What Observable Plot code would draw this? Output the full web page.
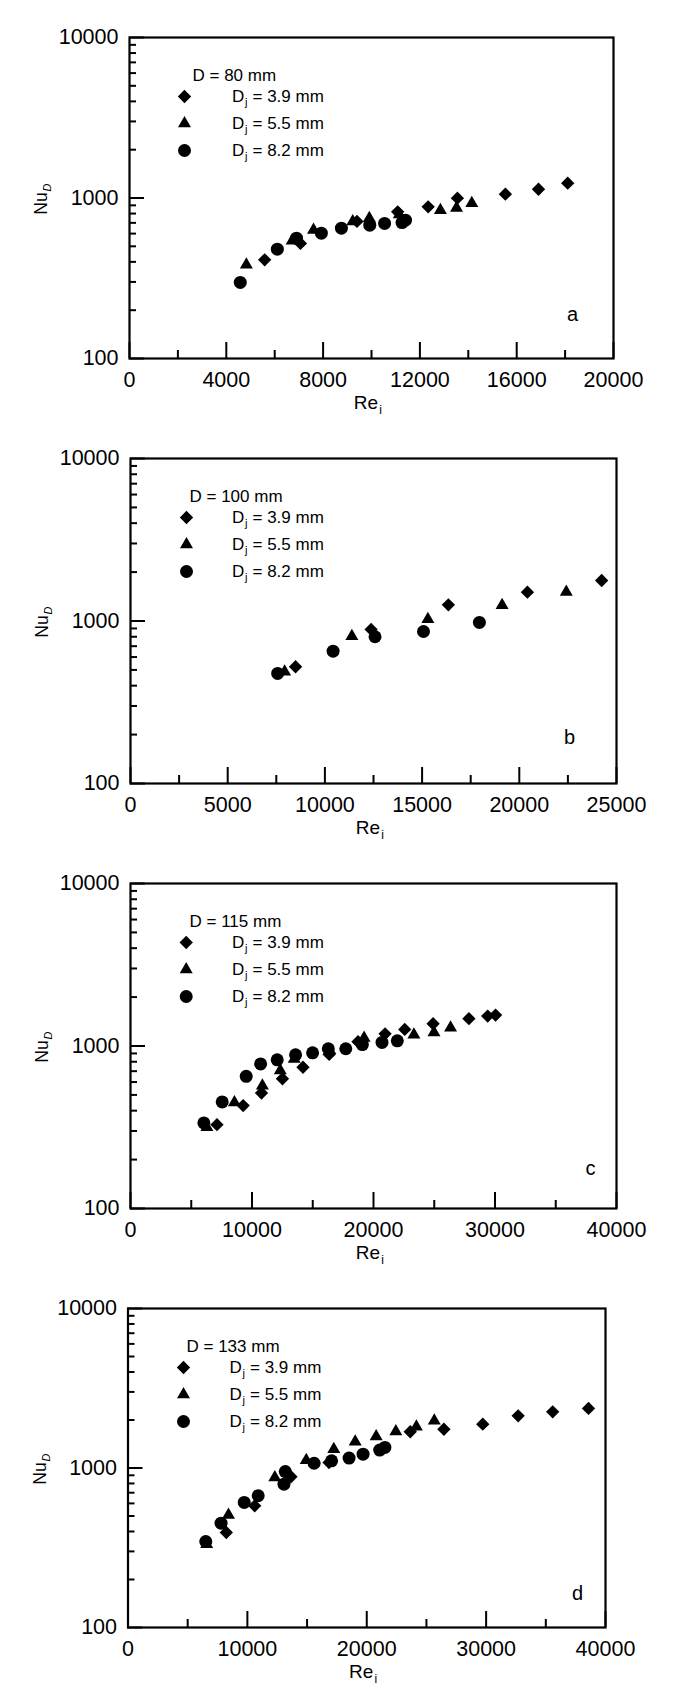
<!DOCTYPE html>
<html><head><meta charset="utf-8">
<script src="https://cdn.jsdelivr.net/npm/d3@7"></script>
<script src="https://cdn.jsdelivr.net/npm/@observablehq/plot@0.6"></script>
<style>
html,body{margin:0;padding:0;background:#fff;overflow:hidden;}
#root{position:relative;width:685px;height:1689px;}
.panel{position:absolute;left:0;}
.panel svg{max-width:none;display:block;}
</style></head><body><div id="root"></div>
<script>
// ---- Data ----
// Panel a: D = 80 mm
const reA39 = [5586, 7063, 9400, 11081, 12342, 13550, 15532, 16901, 18108];
const nuA39 = [412, 521, 715, 820, 881, 998, 1057, 1134, 1237];
const reA55 = [4829, 6721, 7604, 9225, 9910, 11150, 12847, 13514, 14144];
const nuA55 = [384, 541, 631, 715, 748, 790, 840, 865, 929];
const reA82 = [4577, 6108, 6901, 7928, 8757, 9928, 10541, 11261, 11405];
const nuA82 = [298, 480, 562, 604, 649, 677, 694, 703, 728];
// Panel b: D = 100 mm
const reB39 = [8491, 12377, 16352, 20418, 24236];
const nuB39 = [523, 887, 1257, 1505, 1775];
const reB55 = [7929, 11388, 15297, 19115, 22417];
const nuB55 = [487, 807, 1026, 1250, 1510];
const reB82 = [7570, 10422, 12579, 15072, 17947];
const nuB82 = [476, 652, 800, 862, 980];
// Panel c: D = 115 mm
const reC39 = [7116, 9273, 10782, 12507, 14196, 16353, 18725, 20953, 22570, 24906, 27854, 29399, 30046];
const nuC39 = [328, 430, 514, 629, 740, 887, 1062, 1188, 1265, 1370, 1473, 1528, 1549];
const reC55 = [6290, 8554, 10854, 12327, 13477, 16400, 19228, 23325, 24978, 26344];
const nuC55 = [316, 449, 570, 706, 833, 940, 1122, 1172, 1211, 1294];
const reC82 = [6038, 7547, 9524, 10710, 12076, 13585, 14987, 16281, 17718, 19084, 20701, 21959];
const nuC82 = [336, 453, 651, 776, 822, 883, 908, 962, 962, 1020, 1052, 1076];
// Panel d: D = 133 mm
const reD39 = [8235, 10614, 13652, 16836, 23644, 26462, 29719, 32684, 35575, 38576];
const nuD39 = [394, 579, 881, 1082, 1687, 1749, 1883, 2125, 2249, 2362];
const reD55 = [6588, 8418, 12298, 14933, 17239, 19032, 20789, 22436, 24156, 25657];
const nuD55 = [333, 508, 871, 1119, 1313, 1459, 1574, 1694, 1812, 1976];
const reD82 = [6515, 7796, 9736, 10907, 13066, 13176, 15592, 17056, 18520, 19691, 21082, 21521];
const nuD82 = [346, 451, 608, 670, 792, 950, 1071, 1109, 1154, 1221, 1295, 1346];

// Tick values
const yMajor = [100, 1000, 10000];
const yMinor = [200, 300, 400, 500, 600, 700, 800, 900, 2000, 3000, 4000, 5000, 6000, 7000, 8000, 9000];
const xMajorA = [0, 4000, 8000, 12000, 16000, 20000];
const xMinorA = [2000, 6000, 10000, 14000, 18000];
const xMajorB = [0, 5000, 10000, 15000, 20000, 25000];
const xMinorB = [2500, 7500, 12500, 17500, 22500];
const xMajorCD = [0, 10000, 20000, 30000, 40000];
const xMinorCD = [5000, 15000, 25000, 35000];

// Labels
const seriesLabels = ["= 3.9 mm", "= 5.5 mm", "= 8.2 mm"];
const panelTitles = ["D = 80 mm", "D = 100 mm", "D = 115 mm", "D = 133 mm"];
const panelLetters = ["a", "b", "c", "d"];

const FONT = "'Liberation Sans', Arial, Helvetica, sans-serif";

const panels = [
  {offset: 0, left: 129, right: 613, top: 37, bottom: 358, xmax: 20000, xMajor: xMajorA, xMinor: xMinorA,
   s: [[reA39, nuA39], [reA55, nuA55], [reA82, nuA82]], title: panelTitles[0], letter: panelLetters[0],
   hx: 63, mx: 55, lx: 102.5, letDx: -41, letDy: -44},
  {offset: 421, left: 130, right: 616, top: 458, bottom: 783, xmax: 25000, xMajor: xMajorB, xMinor: xMinorB,
   s: [[reB39, nuB39], [reB55, nuB55], [reB82, nuB82]], title: panelTitles[1], letter: panelLetters[1],
   hx: 59, mx: 56, lx: 101.5, letDx: -47, letDy: -46},
  {offset: 846, left: 130, right: 616, top: 883, bottom: 1208, xmax: 40000, xMajor: xMajorCD, xMinor: xMinorCD,
   s: [[reC39, nuC39], [reC55, nuC55], [reC82, nuC82]], title: panelTitles[2], letter: panelLetters[2],
   hx: 59, mx: 55.7, lx: 101.5, letDx: -26, letDy: -40},
  {offset: 1271, left: 127.5, right: 605, top: 1308, bottom: 1627, xmax: 40000, xMajor: xMajorCD, xMinor: xMinorCD,
   s: [[reD39, nuD39], [reD55, nuD55], [reD82, nuD82]], title: panelTitles[3], letter: panelLetters[3],
   hx: 58.5, mx: 55.5, lx: 101.5, letDx: -28, letDy: -34}
];

const symbols = ["diamond2", "triangle2", "circle"];
const radii = [6, 6.2, 6.5];
const rowDy = [59, 86, 113];

function txt(label, opts) {
  return Plot.text([label], {text: d => d, lineAnchor: "middle", fill: "#000", ...opts});
}

function makePanel(p) {
  const fw = p.right - p.left, fh = p.bottom - p.top;
  const mt = p.top - p.offset, mb = 62;
  const H = mt + fh + mb;
  const series = p.s.map(([re, nu]) => re.map((r, i) => ({re: r, nu: nu[i]})));
  const marks = [
    Plot.tickX(p.xMinor, {x: d => d, insetTop: fh - 8, stroke: "#000", strokeWidth: 2}),
    Plot.tickX(p.xMajor, {x: d => d, insetTop: fh - 16, stroke: "#000", strokeWidth: 2}),
    Plot.tickY(yMinor, {y: d => d, insetRight: fw - 7, stroke: "#000", strokeWidth: 2}),
    Plot.tickY(yMajor, {y: d => d, insetRight: fw - 15, stroke: "#000", strokeWidth: 2}),
    Plot.text(p.xMajor, {x: d => d, frameAnchor: "bottom", lineAnchor: "middle", textAnchor: "middle", dy: 22, text: d => String(d), fontSize: 21.5, fill: "#000"}),
    Plot.text(yMajor, {y: d => d, frameAnchor: "left", lineAnchor: "middle", dx: -11, textAnchor: "end", text: d => String(d), fontSize: 21.5, fill: "#000"}),
    Plot.frame({stroke: "#000", strokeWidth: 2.2}),
    // axis titles
    txt("Re", {frameAnchor: "bottom", textAnchor: "middle", dx: -5.5, dy: 44, fontSize: 19}),
    txt("i", {frameAnchor: "bottom", textAnchor: "middle", dx: 9, dy: 51.5, fontSize: 12}),
    txt("Nu", {frameAnchor: "left", textAnchor: "middle", rotate: -90, dx: -88, dy: 5.5, fontSize: 17.5}),
    txt("D", {frameAnchor: "left", textAnchor: "middle", rotate: -90, dx: -82, dy: -10.5, fontSize: 11, fontStyle: "italic"}),
    // panel letter
    txt(p.letter, {frameAnchor: "bottom-right", textAnchor: "middle", dx: p.letDx, dy: p.letDy, fontSize: 20}),
    // legend header
    txt(p.title, {frameAnchor: "top-left", textAnchor: "start", dx: p.hx, dy: 38, fontSize: 17})
  ];
  symbols.forEach((sym, k) => {
    marks.push(Plot.dot([0], {frameAnchor: "top-left", dx: p.mx, dy: rowDy[k], symbol: sym, r: radii[k], fill: "#000", stroke: "none"}));
    marks.push(txt("D", {frameAnchor: "top-left", textAnchor: "start", dx: p.lx, dy: rowDy[k], fontSize: 17}));
    marks.push(txt("j", {frameAnchor: "top-left", textAnchor: "start", dx: p.lx + 13, dy: rowDy[k] + 6, fontSize: 11}));
    marks.push(txt(seriesLabels[k], {frameAnchor: "top-left", textAnchor: "start", dx: p.lx + 20.5, dy: rowDy[k], fontSize: 17}));
  });
  symbols.forEach((sym, k) => {
    marks.push(Plot.dot(series[k], {x: "re", y: "nu", symbol: sym, r: radii[k], fill: "#000", stroke: "none"}));
  });
  const svg = Plot.plot({
    width: 685, height: H,
    marginLeft: p.left, marginRight: 685 - p.right, marginTop: mt, marginBottom: mb,
    style: {fontFamily: FONT, color: "#000", background: "#fff", overflow: "visible"},
    x: {domain: [0, p.xmax], axis: null},
    y: {type: "log", domain: [100, 10000], axis: null},
    marks
  });
  const div = document.createElement("div");
  div.className = "panel";
  div.style.top = p.offset + "px";
  div.appendChild(svg);
  document.getElementById("root").appendChild(div);
}

panels.forEach(makePanel);
</script></body></html>
